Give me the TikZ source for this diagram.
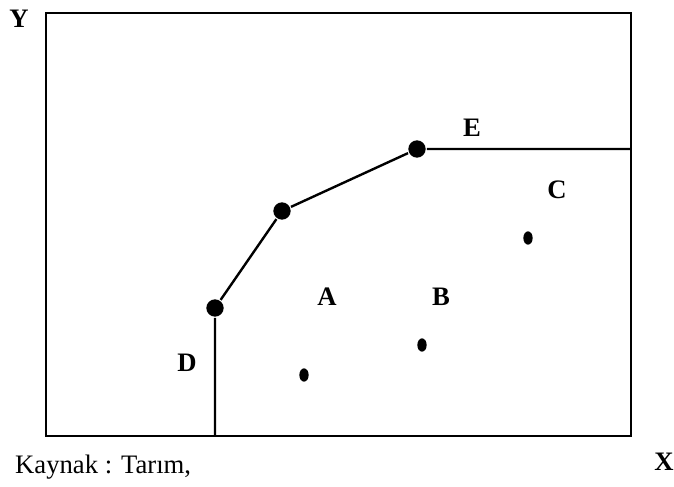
\documentclass[tikz,border=0pt]{standalone}
\usepackage{fontspec}
\setmainfont{Liberation Serif}
\usetikzlibrary{shapes.geometric}

\tikzset{every picture/.style={line width=1.8pt},
  kink/.style={circle,fill=black,inner sep=0pt,minimum size=13pt},
  firm/.style={ellipse,fill=black,inner sep=0pt,minimum width=7pt,minimum height=10pt},
  lbl/.style={inner sep=0.75pt,font=\fontsize{20}{22}\selectfont\bfseries}}

\begin{document}
\begin{tikzpicture}[x=0.75pt,y=0.75pt,yscale=-1,xscale=1]
\useasboundingbox (0,0) rectangle (674,486);
%Shape: Rectangle [id:frame]
\draw (46,13) rectangle (631,436);
%Frontier points
\coordinate (dbot) at (215,436);
\coordinate (eend) at (631,149);
\node [kink] (k1) at (215,308) {};
\node [kink] (k2) at (282,211) {};
\node [kink] (k3) at (417,149) {};
%Straight Lines [id:frontier]
\draw (dbot) -- (k1) -- (k2) -- (k3) -- (eend);
%Firms
\node [firm] (fa) at (304,375) {};
\node [firm] (fb) at (422,345) {};
\node [firm] (fc) at (528,238) {};
% Text Node
\node [lbl] (ly) at (19,19) {Y};
% Text Node
\node [lbl] (lx) at (664,462) {X};
% Text Node
\node [lbl] (le) at (472,128) {E};
% Text Node
\node [lbl] (lc) at (557,190) {C};
% Text Node
\node [lbl] (la) at (327,297) {A};
% Text Node
\node [lbl] (lb) at (441,297) {B};
% Text Node
\node [lbl] (ld) at (187,363) {D};
% Text Node
\node [anchor=west,inner sep=0.75pt,font=\fontsize{20}{22}\selectfont] (src) at (13,467) {Kaynak : Tarım,};
\end{tikzpicture}
\end{document}
